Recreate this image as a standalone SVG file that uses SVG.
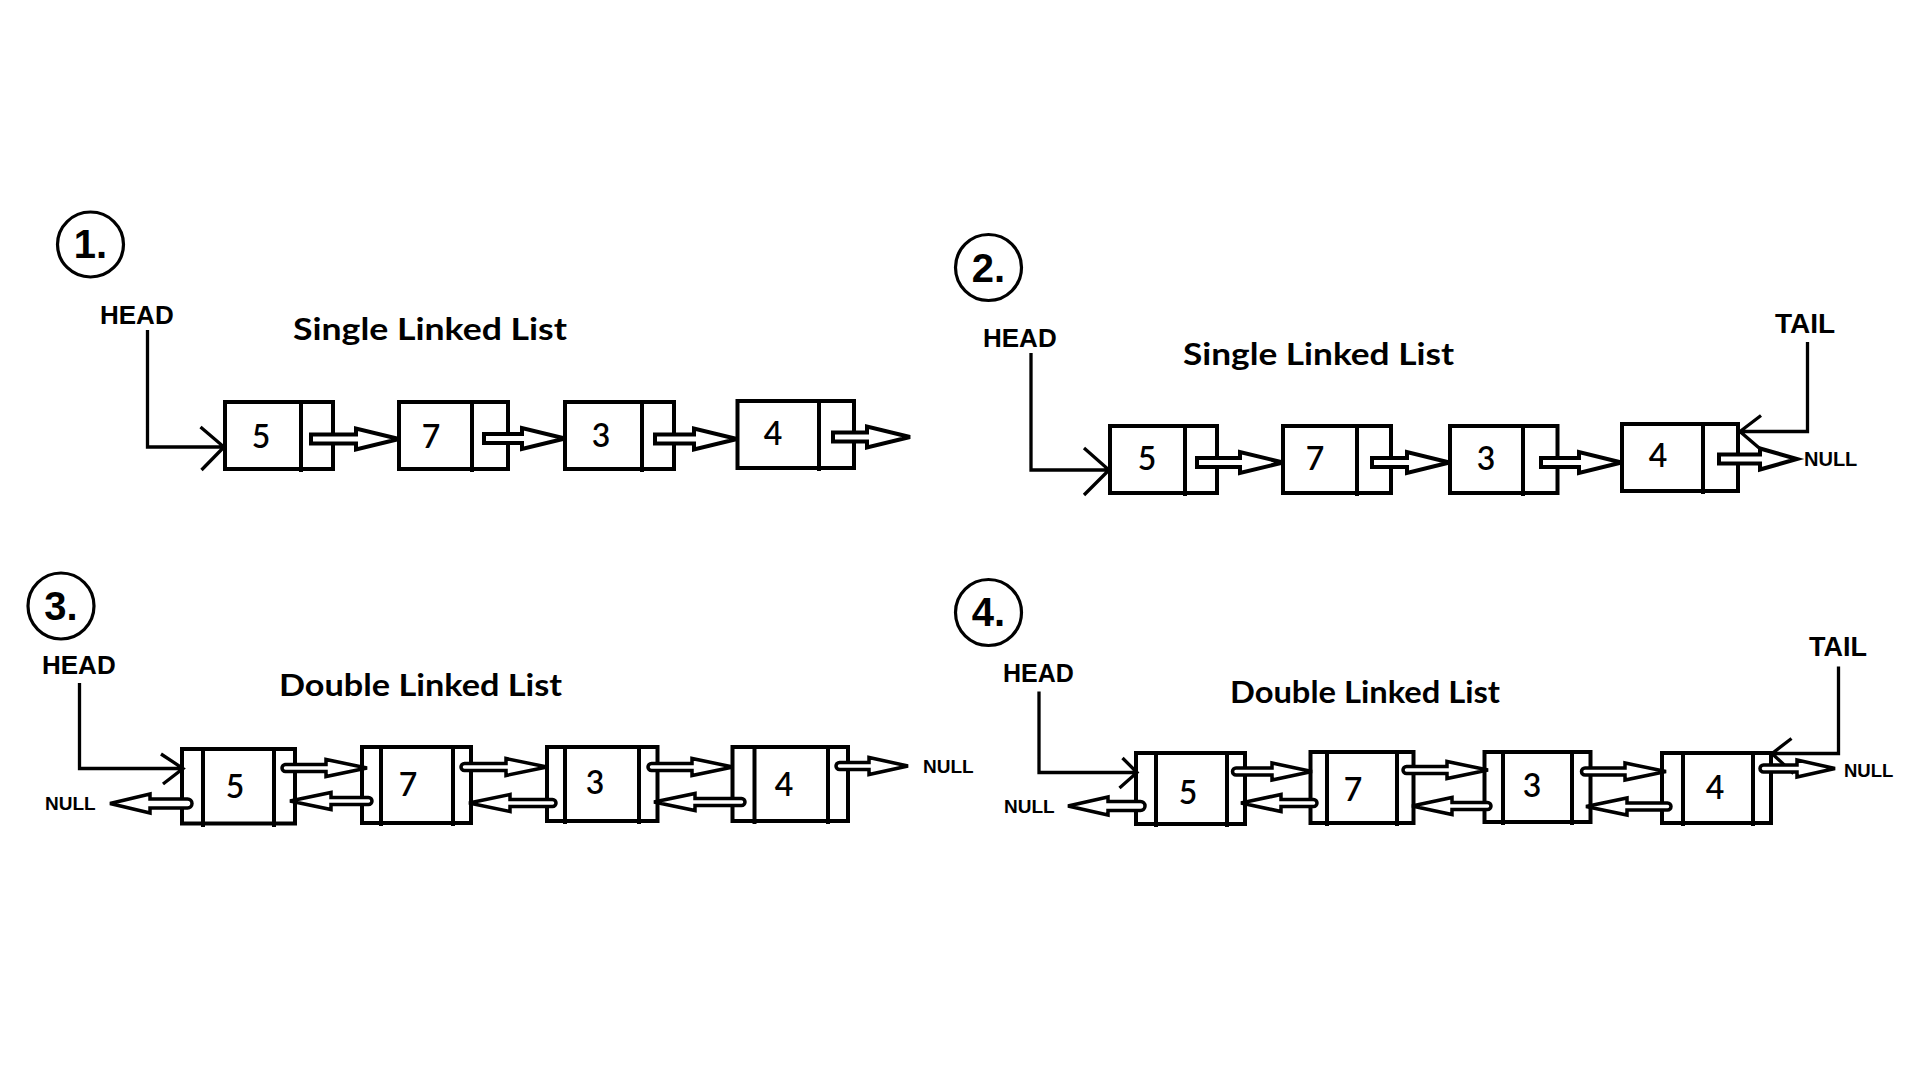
<svg xmlns="http://www.w3.org/2000/svg" width="1920" height="1080" viewBox="0 0 1920 1080">
<style>
.bg{fill:#ffffff}
.circ{fill:none;stroke:#000;stroke-width:3.2}
.num{font-family:"Liberation Sans",Arial,sans-serif;font-weight:bold;font-size:40px;text-anchor:middle;fill:#000}
.lbl{font-family:"Liberation Sans",Arial,sans-serif;font-weight:bold;font-size:26px;fill:#000}
.null{font-family:"Liberation Sans",Arial,sans-serif;font-weight:bold;font-size:19px;fill:#000}
.title{font-family:Lato,"Open Sans",sans-serif;font-weight:bold;font-size:30px;fill:#000}
.val{font-family:Lato,"Open Sans",sans-serif;font-weight:600;font-size:32px;text-anchor:middle;fill:#000}
.box{fill:#fff;stroke:#000;stroke-width:4}
.div{stroke:#000;stroke-width:4;fill:none}
.ptr{fill:none;stroke:#000;stroke-width:3.3;stroke-linejoin:miter}
.arr{fill:#fff;stroke:#000;stroke-width:4;stroke-linejoin:miter}
.arr2{fill:#fff;stroke:#000;stroke-width:3.5;stroke-linejoin:miter}
</style>
<rect class="bg" x="0" y="0" width="1920" height="1080"/>

<!-- Panel 1 -->
<g id="panel1">
  <g id="p1-badge"><ellipse class="circ" cx="90.5" cy="244.5" rx="33" ry="32.5"/><text class="num" x="90.5" y="258">1.</text></g>
  <text id="p1-head" class="lbl" x="100" y="324">HEAD</text>
  <text id="p1-title" class="title" x="293" y="340" textLength="274" lengthAdjust="spacingAndGlyphs">Single Linked List</text>
  <g id="p1-n5"><rect class="box" x="225" y="402" width="108" height="67"/><line class="div" x1="301" y1="402" x2="301" y2="472"/><text class="val" x="261" y="448">5</text></g>
  <g id="p1-n7"><rect class="box" x="399" y="402" width="109" height="67"/><line class="div" x1="472" y1="402" x2="472" y2="472"/><text class="val" x="431" y="448">7</text></g>
  <g id="p1-n3"><rect class="box" x="565" y="402" width="109" height="67"/><line class="div" x1="642" y1="402" x2="642" y2="472"/><text class="val" x="601" y="447">3</text></g>
  <g id="p1-n4"><rect class="box" x="737.5" y="401" width="116.5" height="67"/><line class="div" x1="819" y1="401" x2="819" y2="471"/><text class="val" x="773" y="445">4</text></g>
</g>

<!-- Panel 2 -->
<g id="panel2">
  <g id="p2-badge"><circle class="circ" cx="988.5" cy="267.5" r="33"/><text class="num" x="988.5" y="282">2.</text></g>
  <text id="p2-head" class="lbl" x="983" y="347">HEAD</text>
  <text id="p2-tail" class="lbl" x="1775" y="332.5" style="font-size:28px">TAIL</text>
  <text id="p2-title" class="title" x="1183" y="365" textLength="271" lengthAdjust="spacingAndGlyphs">Single Linked List</text>
  <g id="p2-n5"><rect class="box" x="1110" y="426" width="107" height="67"/><line class="div" x1="1185" y1="426" x2="1185" y2="496"/><text class="val" x="1147" y="470">5</text></g>
  <g id="p2-n7"><rect class="box" x="1283" y="426" width="108" height="67"/><line class="div" x1="1357" y1="426" x2="1357" y2="496"/><text class="val" x="1315" y="470">7</text></g>
  <g id="p2-n3"><rect class="box" x="1450" y="426" width="107.5" height="67"/><line class="div" x1="1523" y1="426" x2="1523" y2="496"/><text class="val" x="1486" y="470">3</text></g>
  <g id="p2-n4"><rect class="box" x="1622" y="424" width="116" height="67"/><line class="div" x1="1703" y1="424" x2="1703" y2="494"/><text class="val" x="1658" y="467">4</text></g>
  <text id="p2-null" class="null" x="1804" y="466" style="font-size:20px">NULL</text>
</g>

<!-- Panel 3 -->
<g id="panel3">
  <g id="p3-badge"><circle class="circ" cx="61" cy="606" r="33"/><text class="num" x="61" y="620">3.</text></g>
  <text id="p3-head" class="lbl" x="42" y="674">HEAD</text>
  <text id="p3-title" class="title" x="279" y="696" textLength="283" lengthAdjust="spacingAndGlyphs">Double Linked List</text>
  <g id="p3-n5"><rect class="box" x="182" y="749" width="113" height="74.5"/><path class="div" d="M203 749V827M274 749V827"/><text class="val" x="235" y="798">5</text></g>
  <g id="p3-n7"><rect class="box" x="362" y="747" width="109" height="76"/><path class="div" d="M381 747V826M453 747V826"/><text class="val" x="408" y="796">7</text></g>
  <g id="p3-n3"><rect class="box" x="547" y="747" width="110.5" height="74"/><path class="div" d="M565 747V824M639 747V824"/><text class="val" x="595" y="794">3</text></g>
  <g id="p3-n4"><rect class="box" x="732.5" y="747" width="115.5" height="74"/><path class="div" d="M754.5 747V824M828 747V824"/><text class="val" x="784" y="796">4</text></g>
  <text id="p3-null-l" class="null" x="45" y="810">NULL</text>
  <text id="p3-null-r" class="null" x="923" y="773">NULL</text>
</g>

<!-- Panel 4 -->
<g id="panel4">
  <g id="p4-badge"><circle class="circ" cx="988.5" cy="612.5" r="33"/><text class="num" x="988.5" y="626">4.</text></g>
  <text id="p4-head" class="lbl" x="1003" y="682" style="font-size:25px">HEAD</text>
  <text id="p4-tail" class="lbl" x="1809" y="656" style="font-size:27px">TAIL</text>
  <text id="p4-title" class="title" x="1230" y="703" textLength="270" lengthAdjust="spacingAndGlyphs">Double Linked List</text>
  <g id="p4-n5"><rect class="box" x="1136" y="753" width="109" height="71"/><path class="div" d="M1156 753V827M1227 753V827"/><text class="val" x="1188" y="804">5</text></g>
  <g id="p4-n7"><rect class="box" x="1310.5" y="752" width="103" height="71"/><path class="div" d="M1327 752V826M1397 752V826"/><text class="val" x="1353" y="801">7</text></g>
  <g id="p4-n3"><rect class="box" x="1484.5" y="752" width="106" height="70"/><path class="div" d="M1503 752V825M1572 752V825"/><text class="val" x="1532" y="797">3</text></g>
  <g id="p4-n4"><rect class="box" x="1662" y="753" width="109" height="70"/><path class="div" d="M1683 753V826M1753 753V826"/><text class="val" x="1715" y="799">4</text></g>
  <text id="p4-null-l" class="null" x="1004" y="813">NULL</text>
  <text id="p4-null-r" class="null" x="1844" y="777" style="font-size:18.5px">NULL</text>
</g>

<!-- Connectors -->
<g id="connectors">
  <!-- head/tail pointers -->
  <path class="ptr" d="M147.5 330V447H224M200.5 427L224 447L201.5 470"/>
  <path class="ptr" d="M1031 353V470H1109M1084 448L1109 470L1084 495"/>
  <path class="ptr" d="M1807.5 342V431.5H1740M1761 415.5L1740 431.5L1761.5 450"/>
  <path class="ptr" d="M79.5 683V768.5H183M161 754L183 768.5L163 784"/>
  <path class="ptr" d="M1039 691.5V772.5H1137M1122.5 758L1137 772.5L1119.5 788"/>
  <path class="ptr" d="M1838.5 666.5V753.5H1772M1791.5 738.5L1772 753.5L1793.5 773.5"/>

  <!-- panel 1 next pointers -->
  <path class="arr" d="M311 434.5H356V428.5L399 439L356 449.5V443.5H311Z"/>
  <path class="arr" d="M484 434H522V428L565 438.5L522 449V443H484Z"/>
  <path class="arr" d="M655 434.5H694V428.5L737 439L694 449.5V443.5H655Z"/>
  <path class="arr" d="M833 432.5H867V426.5L910 437L867 447.5V441.5H833Z"/>

  <!-- panel 2 next pointers -->
  <path class="arr" d="M1197 458H1240V452L1283 462.5L1240 473V467H1197Z"/>
  <path class="arr" d="M1372 458H1407V452L1449.5 462.5L1407 473V467H1372Z"/>
  <path class="arr" d="M1541 458H1579V452L1621.5 462.5L1579 473V467H1541Z"/>
  <path class="arr" d="M1719 454.5H1760V448.5L1797 459L1760 469.5V463.5H1719Z"/>

  <!-- panel 3 next pointers -->
  <path class="arr2" d="M285.5 764.5H326V759.5L367 768L326 776.5V771.5H285.5A3.5 3.5 0 0 1 285.5 764.5Z"/>
  <path class="arr2" d="M464.5 763.5H506V758.5L547 767L506 775.5V770.5H464.5A3.5 3.5 0 0 1 464.5 763.5Z"/>
  <path class="arr2" d="M651.5 763.5H692V758.5L733 767L692 775.5V770.5H651.5A3.5 3.5 0 0 1 651.5 763.5Z"/>
  <path class="arr2" d="M839.5 762.5H869V757.5L908 766L869 774.5V769.5H839.5A3.5 3.5 0 0 1 839.5 762.5Z"/>
  <!-- panel 3 prev pointers -->
  <path class="arr2" d="M187.5 799H150V794L110 803.5L150 813V808H187.5A4.5 4.5 0 0 0 187.5 799Z"/>
  <path class="arr2" d="M368.5 797.5H331V792.5L290 801L331 809.5V804.5H368.5A3.5 3.5 0 0 0 368.5 797.5Z"/>
  <path class="arr2" d="M552.5 799.5H510V794.5L469 803L510 811.5V806.5H552.5A3.5 3.5 0 0 0 552.5 799.5Z"/>
  <path class="arr2" d="M741.5 798.5H695V793.5L654 802L695 810.5V805.5H741.5A3.5 3.5 0 0 0 741.5 798.5Z"/>

  <!-- panel 4 next pointers -->
  <path class="arr2" d="M1236 768H1272V763L1312 771.5L1272 780V775H1236A3.5 3.5 0 0 1 1236 768Z"/>
  <path class="arr2" d="M1406.5 766.5H1447V761.5L1488 770L1447 778.5V773.5H1406.5A3.5 3.5 0 0 1 1406.5 766.5Z"/>
  <path class="arr2" d="M1585 768H1625V763L1666 771.5L1625 780V775H1585A3.5 3.5 0 0 1 1585 768Z"/>
  <path class="arr2" d="M1763.5 765H1797V760L1835 768.5L1797 777V772H1763.5A3.5 3.5 0 0 1 1763.5 765Z"/>
  <!-- panel 4 prev pointers -->
  <path class="arr2" d="M1140.5 801.5H1108V797L1068 806L1108 815V810.5H1140.5A4.5 4.5 0 0 0 1140.5 801.5Z"/>
  <path class="arr2" d="M1313.5 799.5H1281V794.5L1241 803L1281 811.5V806.5H1313.5A3.5 3.5 0 0 0 1313.5 799.5Z"/>
  <path class="arr2" d="M1487.5 802.5H1452V797.5L1412 806L1452 814.5V809.5H1487.5A3.5 3.5 0 0 0 1487.5 802.5Z"/>
  <path class="arr2" d="M1667.5 803H1627V798L1586 806.5L1627 815V810H1667.5A3.5 3.5 0 0 0 1667.5 803Z"/>
</g>
</svg>
